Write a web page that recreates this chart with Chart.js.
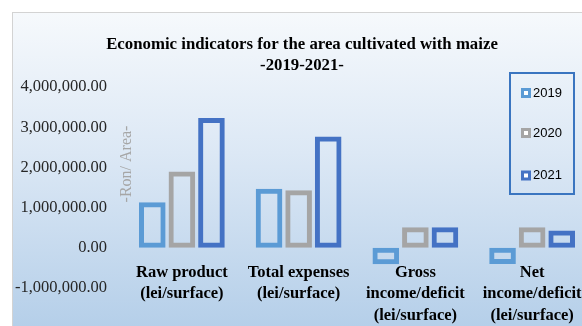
<!DOCTYPE html>
<html>
<head>
<meta charset="utf-8"/>
<title>Economic indicators - maize</title>
<script src="https://cdn.jsdelivr.net/npm/chart.js@4.4.1/dist/chart.umd.min.js"></script>
<style>
  html, body { margin: 0; padding: 0; overflow: hidden; background: #fff; }
  #frame {
    position: absolute; left: 12px; top: 12px; width: 700px; height: 400px;
    border: 1.5px solid #d3d3d3;
    background: linear-gradient(to bottom, #f6f9fc 0px, #dce8f5 140px, #b5cfe9 314px, #b0cbe7 400px);
  }
  #maizeChart { position: absolute; left: 0; top: 0; }
</style>
</head>
<body>
<div id="frame"></div>
<canvas id="maizeChart" width="640" height="326"></canvas>
<script>
// chart values
const categories = [
  ['Raw product', '(lei/surface)'],
  ['Total expenses', '(lei/surface)'],
  ['Gross', 'income/deficit', '(lei/surface)'],
  ['Net', 'income/deficit', '(lei/surface)']
];
const years = ['2019', '2020', '2021'];
const values2019 = [1130000, 1470000, -410000, -405000];
const values2020 = [1900000, 1430000, 510000, 510000];
const values2021 = [3230000, 2770000, 510000, 430000];
const yMin = -1000000;
const yMax = 4000000;
const yStep = 1000000;
const titleLines = ['Economic indicators for the area cultivated with maize', '-2019-2021-'];
const yTitle = '-Ron/ Area-';

const colors = ['#5b9bd5', '#a5a5a5', '#4472c4'];

// title, rotated axis title and the boxed legend are drawn by hand
const extras = {
  id: 'extras',
  afterDraw(chart) {
    const ctx = chart.ctx;
    const area = chart.chartArea;
    ctx.save();

    // title
    ctx.fillStyle = '#000';
    ctx.font = 'bold 16.8px "Liberation Serif", serif';
    ctx.textAlign = 'center';
    ctx.textBaseline = 'middle';
    ctx.fillText(titleLines[0], 302, 45);
    ctx.fillText(titleLines[1], 302, 66);

    // axis title inside plot
    ctx.save();
    ctx.translate(area.left + 3, 164);
    ctx.rotate(-Math.PI / 2);
    ctx.fillStyle = '#a6a6a6';
    ctx.font = '16px "Liberation Serif", serif';
    ctx.fillText(yTitle, 0, 0);
    ctx.restore();

    // legend box
    ctx.strokeStyle = '#3a75c0';
    ctx.lineWidth = 2;
    ctx.strokeRect(510, 73, 64, 121);
    const rows = [93, 133, 175.5];
    ctx.textAlign = 'left';
    ctx.font = '13px "Liberation Sans", sans-serif';
    chart.data.datasets.forEach((ds, i) => {
      const y = rows[i];
      ctx.fillStyle = ds.borderColor;
      ctx.fillRect(521, y - 5, 10, 10);
      ctx.fillStyle = '#fff';
      ctx.fillRect(524, y - 2, 4, 4);
      ctx.fillStyle = '#000';
      ctx.fillText(ds.label, 533, y);
    });
    ctx.restore();
  }
};

const seriesValues = [values2019, values2020, values2021];

const data = {
  labels: categories,
  datasets: years.map((year, i) => ({
    label: year,
    data: seriesValues[i],
    borderColor: colors[i],
    backgroundColor: 'rgba(0,0,0,0)',
    borderWidth: 5,
    borderSkipped: false
  }))
};

const config = {
  type: 'bar',
  data: data,
  plugins: [extras],
  options: {
    responsive: false,
    animation: false,
    layout: { padding: { left: 0, right: 49.5, top: 87, bottom: 38 } },
    categoryPercentage: 0.76,
    barPercentage: 0.9,
    plugins: {
      legend: { display: false },
      title: { display: false },
      tooltip: { enabled: false }
    },
    scales: {
      x: {
        position: { y: 0 },
        grid: { display: false },
        border: { display: false },
        ticks: {
          autoSkip: false,
          maxRotation: 0,
          padding: 6,
          color: '#000',
          font: { family: '"Liberation Serif", serif', size: 16.5, weight: 'bold', lineHeight: 1.3 }
        }
      },
      y: {
        min: yMin,
        max: yMax,
        grid: { display: false, drawTicks: false },
        border: { display: false },
        afterFit(scale) { scale.width = 123.5; },
        ticks: {
          stepSize: yStep,
          padding: 16.5,
          color: '#262626',
          font: { family: '"Liberation Serif", serif', size: 16.5 },
          callback: v => v.toLocaleString('en-US', { minimumFractionDigits: 2, maximumFractionDigits: 2 })
        }
      }
    }
  }
};

new Chart(document.getElementById('maizeChart'), config);
</script>
</body>
</html>
